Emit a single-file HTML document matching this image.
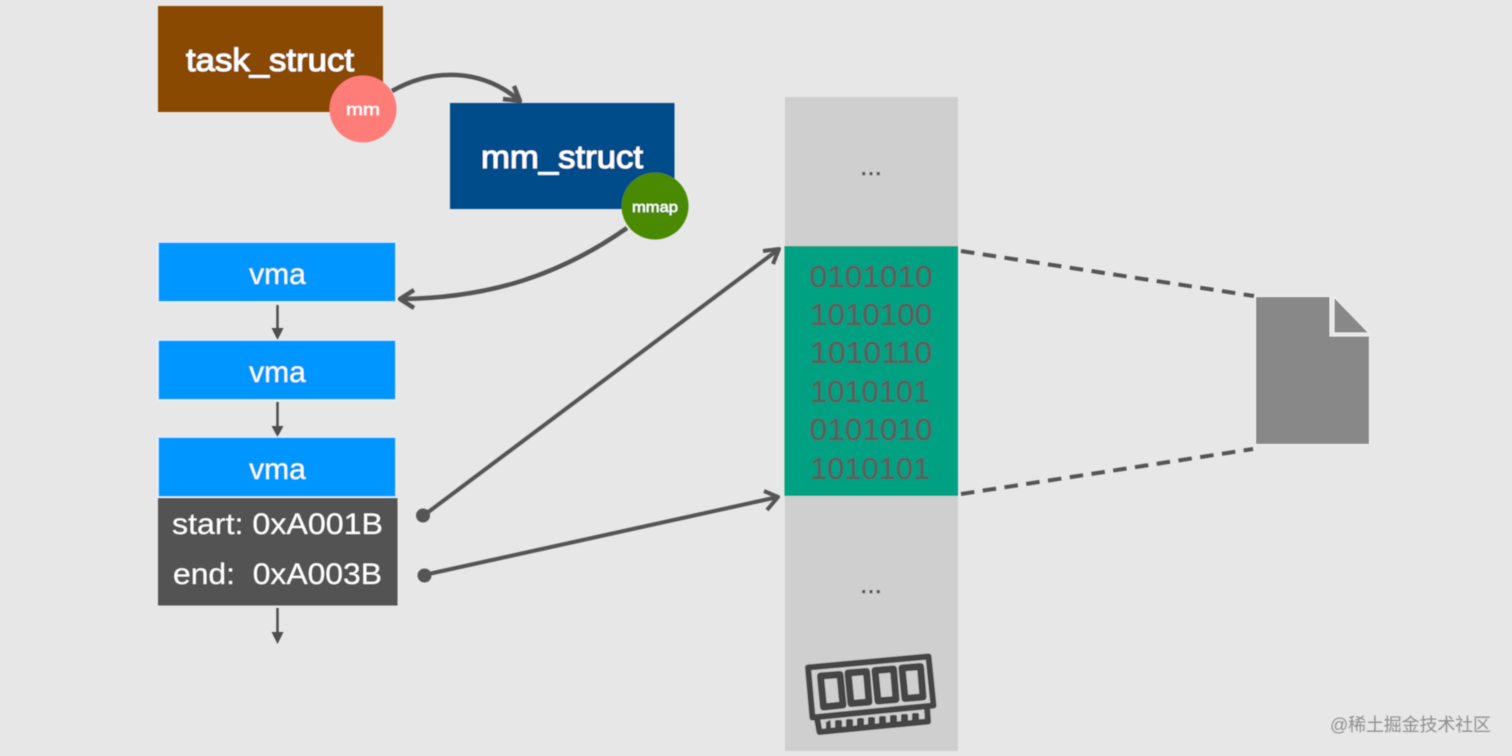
<!DOCTYPE html>
<html><head><meta charset="utf-8"><style>
html,body{margin:0;padding:0;background:#e7e7e7}
svg{display:block}
text{font-family:"Liberation Sans","Noto Sans CJK SC",sans-serif}
</style></head><body>
<svg width="1512" height="756" viewBox="0 0 1512 756" xmlns="http://www.w3.org/2000/svg">
<defs>
<filter id="b" x="-5%" y="-5%" width="110%" height="110%"><feGaussianBlur stdDeviation="0.45"/></filter>
</defs>
<rect width="1512" height="756" fill="#e7e7e7"/>
<g filter="url(#b)">
<!-- memory column -->
<rect x="785" y="97" width="173" height="654" fill="#cfcfcf"/>
<rect x="784.500" y="246" width="173.500" height="250" fill="#00a082"/>
<g font-size="31" fill="#56605e" stroke="#56605e" stroke-width="0.600" text-anchor="middle">
<text x="871" y="287" textLength="123" lengthAdjust="spacingAndGlyphs">0101010</text>
<text x="871" y="325" textLength="122" lengthAdjust="spacingAndGlyphs">1010100</text>
<text x="871" y="363" textLength="122" lengthAdjust="spacingAndGlyphs">1010110</text>
<text x="870" y="402" textLength="120" lengthAdjust="spacingAndGlyphs">1010101</text>
<text x="871" y="440" textLength="123" lengthAdjust="spacingAndGlyphs">0101010</text>
<text x="870" y="479" textLength="120" lengthAdjust="spacingAndGlyphs">1010101</text>
</g>
<text x="871" y="175" font-size="26" fill="#4f4f4f" stroke="#4f4f4f" stroke-width="0.500" text-anchor="middle">...</text>
<text x="871" y="593" font-size="26" fill="#4f4f4f" stroke="#4f4f4f" stroke-width="0.500" text-anchor="middle">...</text>
<!-- RAM -->
<g fill="none" stroke="#444" stroke-linejoin="round">
<path d="M808 667.500 L928.500 656.500 L933.500 705.500 L812.500 717.500 Z" stroke-width="6"/>
<path d="M820.500 676 L840 674.500 L843 705 L823.500 707 Z" stroke-width="7"/>
<path d="M848 673 L866.500 671.500 L869 702 L851 703.500 Z" stroke-width="7"/>
<path d="M875 670.500 L893.500 669 L896 699.500 L878 701 Z" stroke-width="7"/>
<path d="M902 668 L920.500 666.500 L923 697 L905 698.500 Z" stroke-width="7"/>
<path d="M817 718 L819.500 732 L928 721.500 L927 707" stroke-width="6"/>
</g>
<g fill="#444">
<path d="M826 722 L826 730 L831 730 L830.500 720 Z"/>
<rect x="835" y="720" width="7" height="10" rx="2"/>
<rect x="846" y="719" width="7" height="10" rx="2"/>
<rect x="857" y="718" width="7" height="10" rx="2"/>
<rect x="868" y="717" width="7" height="10" rx="2"/>
<rect x="879" y="716" width="7" height="10" rx="2"/>
<rect x="890" y="715" width="7" height="9" rx="2"/>
<rect x="901" y="714" width="7" height="9" rx="2"/>
<rect x="912" y="713" width="7" height="9" rx="2"/>
</g>
<!-- task_struct -->
<rect x="158" y="6" width="225" height="106" fill="#8a4a00"/>
<text x="270" y="71" font-size="32" fill="#fff" stroke="#fff" stroke-width="0.800" text-anchor="middle" textLength="168" lengthAdjust="spacingAndGlyphs">task_struct</text>
<circle cx="363" cy="109" r="33.500" fill="#ff7d78"/>
<text x="363" y="115" font-size="17" fill="#fff" stroke="#fff" stroke-width="0.400" text-anchor="middle" textLength="34" lengthAdjust="spacingAndGlyphs">mm</text>
<!-- mm_struct -->
<rect x="450" y="103" width="224.500" height="106" fill="#004b8a"/>
<text x="562" y="168" font-size="32" fill="#fff" stroke="#fff" stroke-width="0.800" text-anchor="middle" textLength="162" lengthAdjust="spacingAndGlyphs">mm_struct</text>
<circle cx="655" cy="206" r="33.500" fill="#4a8a00"/>
<text x="655" y="212" font-size="15" fill="#fff" stroke="#fff" stroke-width="0.400" text-anchor="middle" textLength="46" lengthAdjust="spacingAndGlyphs">mmap</text>
<!-- connectors top -->
<g fill="none" stroke="#555" stroke-width="4.500" stroke-linejoin="round">
<path d="M392 91 C432 68 482 68 520 101"/>
<path d="M503 99 L520 101 L514 86"/>
<path d="M627 228 C560 275 490 298 401 299"/>
<path d="M414 290 L400 299 L414 308"/>
</g>
<!-- vma -->
<g fill="#0096ff" stroke="#e4f3ff" stroke-width="1.300">
<rect x="158" y="242" width="238" height="60"/>
<rect x="158" y="340" width="238" height="60"/>
<rect x="158" y="437" width="238" height="60"/>
</g>
<g font-size="30" fill="#fff" text-anchor="middle">
<text x="277.500" y="284">vma</text>
<text x="277.500" y="382">vma</text>
<text x="277.500" y="479">vma</text>
</g>
<rect x="158" y="498" width="239.500" height="107.500" fill="#535353"/>
<text x="172" y="534" font-size="30" fill="#fff" textLength="211" lengthAdjust="spacingAndGlyphs">start: 0xA001B</text>
<text x="173" y="584" font-size="30" fill="#fff" textLength="209" xml:space="preserve" lengthAdjust="spacingAndGlyphs">end:  0xA003B</text>
<!-- small down arrows -->
<g stroke="#4d4d4d" stroke-width="2.500" fill="none">
<path d="M277.500 305 V330"/><path d="M277.500 402 V428"/><path d="M277.500 608 V634"/>
</g>
<g fill="#4d4d4d">
<path d="M271.500 328 H283.500 L277.500 340 Z"/>
<path d="M271.500 426 H283.500 L277.500 437 Z"/>
<path d="M271.500 632 H283.500 L277.500 644 Z"/>
</g>
<!-- pointers -->
<g stroke="#555" stroke-width="4" fill="none" stroke-linejoin="round">
<path d="M423 516 L779 249"/>
<path d="M763 251 L779 249 L773 264"/>
<path d="M424 575 L778 497"/>
<path d="M764 491 L778 497 L767 510"/>
</g>
<circle cx="423" cy="515.500" r="7" fill="#555"/>
<circle cx="424.500" cy="575.500" r="7" fill="#555"/>
<!-- dashed -->
<g stroke="#555" stroke-width="4" stroke-dasharray="13.500 8.500" fill="none">
<path d="M961 251 L1254 296"/>
<path d="M961 494 L1253 449"/>
</g>
<!-- file -->
<path d="M1255.500 296.500 H1330 V336 H1369.500 V444.500 H1255.500 Z" fill="#888" stroke="#f2f2f2" stroke-width="1"/>
<path d="M1334 297 L1369 333 H1334 Z" fill="#888" stroke="#f2f2f2" stroke-width="1"/>
<!-- watermark -->
<text x="1330" y="731" font-size="18" fill="#8f8f8f" textLength="161" lengthAdjust="spacing">@稀土掘金技术社区</text>
</g>
</svg>
</body></html>
